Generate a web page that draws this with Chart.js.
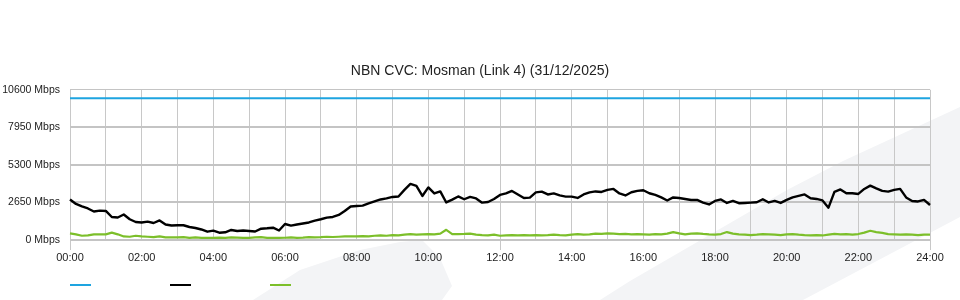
<!DOCTYPE html>
<html>
<head>
<meta charset="utf-8">
<script src="https://cdn.jsdelivr.net/npm/chart.js@4.4.0/dist/chart.umd.min.js"></script>
<style>
    html, body { margin: 0; padding: 0; background: #fff; }
</style>
</head>
<body>
<canvas id="cvcChart" width="960" height="300"></canvas>
<script>
// tick values on the y axis (Mbps)
var yTicks = [0, 2650, 5300, 7950, 10600];

// link capacity, flat across the day
var capacityTimes = ['00:00', '24:00'];
var capacity = [10000, 10000];

// 10 minute samples, 00:00 .. 24:00
var download = [
    2862, 2544, 2367, 2226, 2014, 2071, 2049, 1625, 1590, 1802, 1463, 1272,
    1237, 1293, 1201, 1378, 1095, 1025, 1039, 1039, 919, 848, 742, 587,
    657, 516, 544, 707, 636, 671, 636, 601, 799, 827, 869, 671,
    1131, 1011, 1095, 1166, 1237, 1364, 1463, 1576, 1625, 1767, 2049, 2367,
    2403, 2424, 2579, 2721, 2862, 2933, 3039, 3074, 3534, 3958, 3816, 3109,
    3710, 3286, 3427, 2650, 2848, 3074, 2876, 3039, 2933, 2636, 2685, 2897,
    3180, 3286, 3463, 3215, 2968, 2989, 3357, 3413, 3215, 3286, 3145, 3060,
    3060, 2968, 3215, 3357, 3427, 3392, 3534, 3604, 3286, 3145, 3371, 3463,
    3512, 3300, 3180, 3004, 2791, 3004, 2968, 2897, 2827, 2827, 2636, 2509,
    2756, 2862, 2615, 2756, 2594, 2615, 2636, 2664, 2876, 2650, 2756, 2615,
    2827, 3004, 3109, 3215, 2947, 2897, 2791, 2283, 3392, 3569, 3300, 3300,
    3251, 3604, 3837, 3640, 3463, 3413, 3534, 3604, 3004, 2756, 2721, 2827,
    2473
];

var upload = [
    470, 400, 300, 330, 400, 400, 400, 520, 400, 250, 230, 300,
    250, 230, 200, 250, 180, 180, 180, 200, 150, 180, 150, 150,
    150, 170, 150, 180, 170, 150, 150, 180, 200, 150, 160, 150,
    160, 180, 150, 170, 200, 180, 200, 230, 210, 230, 250, 250,
    250, 280, 250, 300, 320, 300, 350, 330, 380, 420, 380, 400,
    420, 400, 450, 720, 420, 420, 430, 450, 380, 350, 330, 380,
    300, 330, 350, 330, 350, 330, 350, 330, 350, 380, 350, 330,
    380, 420, 380, 400, 450, 430, 470, 450, 420, 430, 400, 420,
    400, 380, 420, 400, 450, 560, 470, 400, 450, 470, 430, 400,
    380, 420, 560, 450, 400, 380, 350, 380, 420, 400, 380, 350,
    400, 420, 380, 350, 330, 350, 320, 380, 430, 400, 420, 380,
    420, 520, 650, 560, 500, 420, 400, 380, 400, 380, 350, 380,
    380
];

// category labels every 10 minutes
var times = [];
for (var i = 0; i < download.length; i++) {
    var hh = Math.floor(i / 6), mm = (i % 6) * 10;
    times.push((hh < 10 ? '0' : '') + hh + ':' + (mm < 10 ? '0' : '') + mm);
}

var colors = { capacity: '#1ea4e0', download: '#000000', upload: '#7cbf2a' };
var FONT = 'Liberation Sans';

// faint background swooshes
var backdrop = {
    id: 'backdrop',
    beforeDraw: function (chart) {
        var c = chart.ctx;
        c.save();
        c.fillStyle = '#f3f4f6';
        c.beginPath();
        c.moveTo(600, 300);
        c.lineTo(630, 281);
        c.lineTo(787, 190);
        c.lineTo(843, 161);
        c.lineTo(960, 107);
        c.lineTo(960, 217);
        c.lineTo(803, 300);
        c.closePath();
        c.fill();
        c.beginPath();
        c.moveTo(253, 300);
        c.lineTo(300, 270);
        c.lineTo(360, 250);
        c.lineTo(400, 242);
        c.lineTo(422, 240);
        c.lineTo(440, 258);
        c.lineTo(452, 286);
        c.lineTo(442, 300);
        c.closePath();
        c.fill();
        c.restore();
    }
};

// legend: just the coloured strokes, no text
var strokeLegend = {
    id: 'strokeLegend',
    afterDraw: function (chart) {
        var c = chart.ctx;
        c.save();
        c.lineWidth = 2;
        chart.data.datasets.forEach(function (ds, k) {
            var x = 70 + k * 100;
            c.strokeStyle = ds.borderColor;
            c.beginPath();
            c.moveTo(x, 285);
            c.lineTo(x + 21, 285);
            c.stroke();
        });
        c.restore();
    }
};

var ctx = document.getElementById('cvcChart').getContext('2d');
var cvcChart = new Chart(ctx, {
    type: 'line',
    data: {
        labels: times,
        datasets: [
            {
                label: 'Capacity',
                data: capacityTimes.map(function (t, k) { return { x: t, y: capacity[k] }; }),
                borderColor: colors.capacity,
                borderWidth: 2
            },
            {
                label: 'Download',
                data: download,
                borderColor: colors.download,
                borderWidth: 2.4
            },
            {
                label: 'Upload',
                data: upload,
                borderColor: colors.upload,
                borderWidth: 2.2
            }
        ]
    },
    options: {
        responsive: false,
        animation: false,
        layout: { padding: 0 },
        elements: {
            point: { radius: 0, hoverRadius: 0 },
            line: { tension: 0, borderJoinStyle: 'round' }
        },
        plugins: {
            legend: { display: false },
            tooltip: { enabled: false },
            title: {
                display: true,
                text: 'NBN CVC: Mosman (Link 4) (31/12/2025)',
                color: '#222',
                font: { family: FONT, size: 14, weight: 'normal' },
                padding: { top: 63, bottom: 10 }
            }
        },
        scales: {
            x: {
                type: 'category',
                offset: false,
                afterFit: function (scale) { scale.height = 60; },
                grid: {
                    color: '#c8c8c8',
                    lineWidth: 1,
                    drawTicks: true,
                    tickLength: 10,
                    tickColor: function (c) {
                        return c.index % 12 === 0 ? '#c8c8c8' : 'rgba(0,0,0,0)';
                    }
                },
                border: { display: false },
                ticks: {
                    autoSkip: false,
                    maxRotation: 0,
                    padding: 1,
                    color: '#222',
                    font: { family: FONT, size: 11 },
                    callback: function (val, idx) {
                        if (idx % 12 === 0) return times[idx];
                        if (idx % 6 === 0) return '';
                        return null;
                    }
                }
            },
            y: {
                min: 0,
                max: yTicks[yTicks.length - 1],
                afterFit: function (scale) { scale.width = 70; },
                afterBuildTicks: function (scale) {
                    scale.ticks = yTicks.map(function (v) { return { value: v }; });
                },
                grid: {
                    color: '#c4c4c4',
                    drawTicks: false,
                    lineWidth: function (c) {
                        return c.tick && c.tick.value === yTicks[yTicks.length - 1] ? 1 : 2;
                    }
                },
                border: { display: false },
                ticks: {
                    padding: 10,
                    color: '#222',
                    font: { family: FONT, size: 10.5 },
                    callback: function (v) { return v + ' Mbps'; }
                }
            },
            // empty right-hand gutter so the title stays centred on the page
            yRight: {
                position: 'right',
                min: 0,
                max: yTicks[yTicks.length - 1],
                afterFit: function (scale) { scale.width = 30; },
                grid: { drawOnChartArea: false, drawTicks: false },
                border: { display: false },
                ticks: { display: false }
            }
        }
    },
    plugins: [backdrop, strokeLegend]
});
</script>
</body>
</html>
